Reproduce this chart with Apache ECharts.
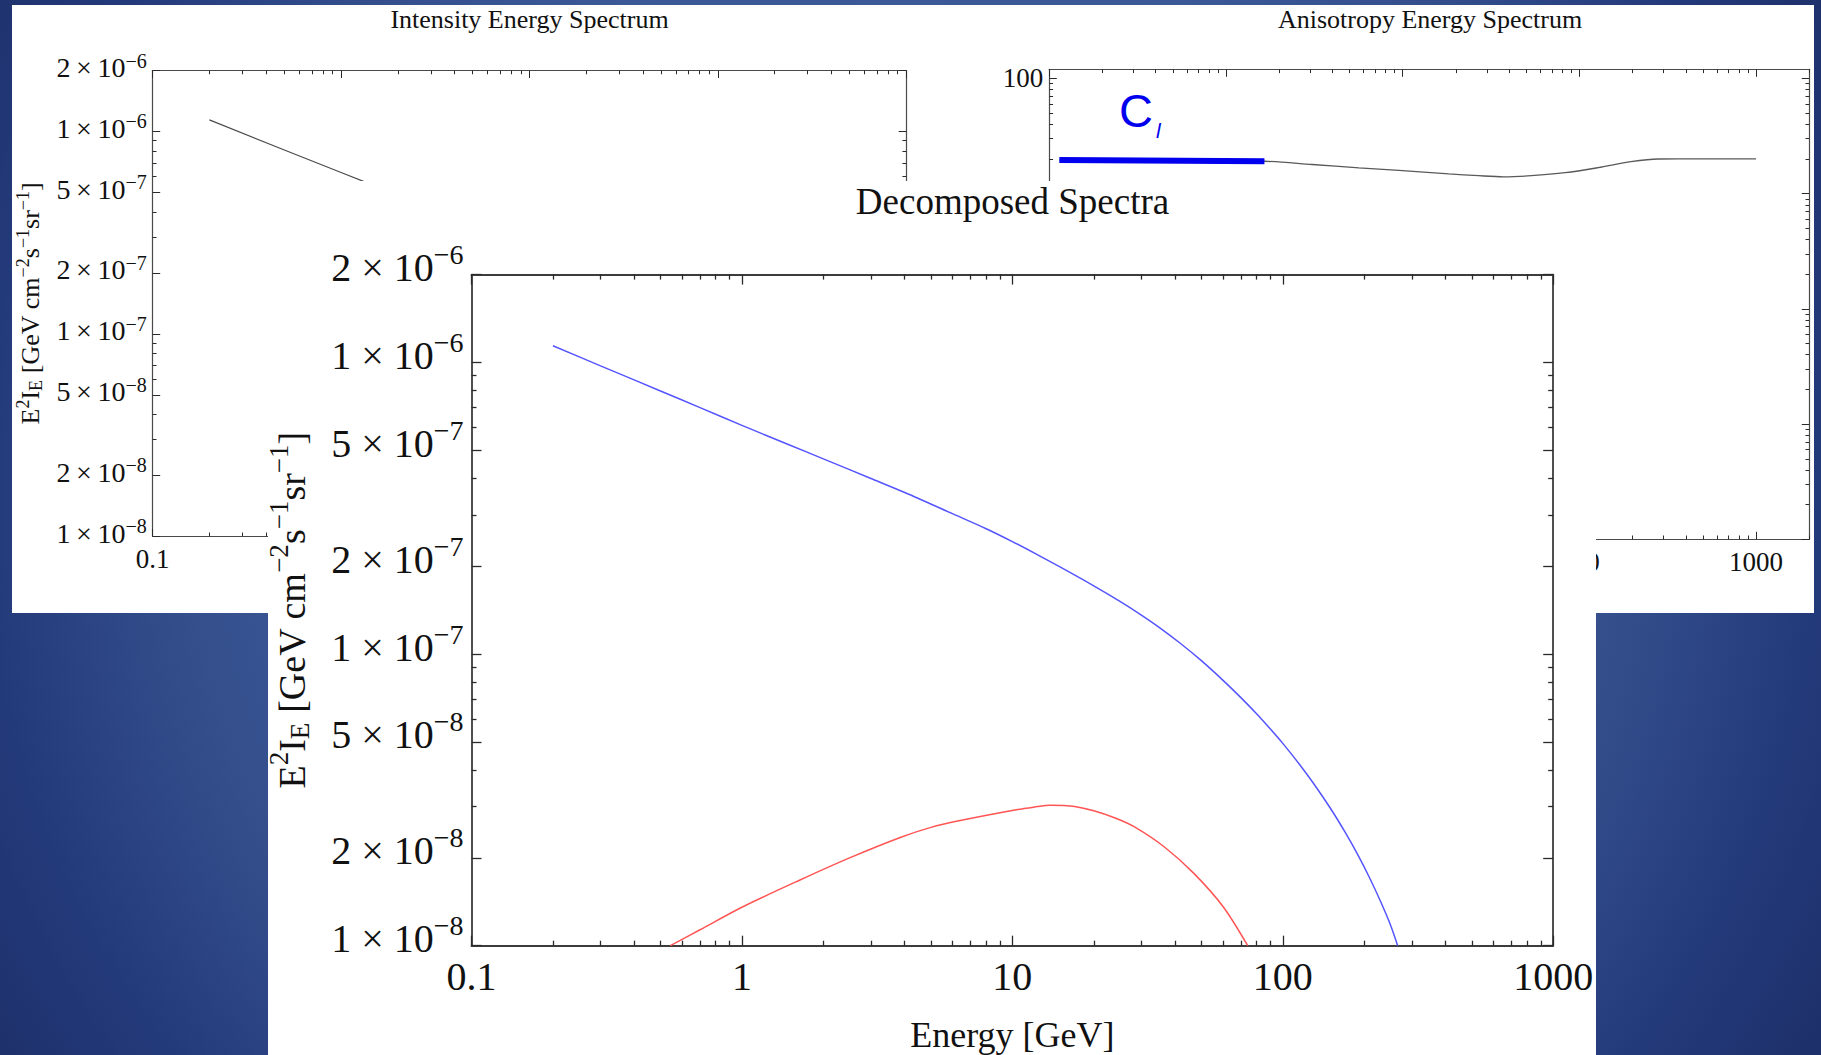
<!DOCTYPE html>
<html>
<head>
<meta charset="utf-8">
<script src="https://cdn.jsdelivr.net/npm/echarts@6/dist/echarts.min.js"></script>
<style>
  html, body { margin: 0; padding: 0; background: #2a4282; }
  #chart { width: 1821px; height: 1055px; }
</style>
</head>
<body>
<div id="chart"></div>
<script>
// ---------------- data ----------------
// Main "Decomposed Spectra" panel
const mainXMajor = [0.1, 1, 10, 100, 1000];
const mainYMajor = [1e-8, 2e-8, 5e-8, 1e-7, 2e-7, 5e-7, 1e-6, 2e-6];
const blueEnergy = [0.2, 0.3, 0.5, 0.7, 1, 1.5, 2, 3, 4, 6, 8, 10, 12.5, 15, 20, 25, 30, 35, 42, 50,
                    60, 70, 80, 90, 100, 115, 130, 150, 170, 190, 210, 230, 250, 266];
const blueFlux   = [1.14e-6, 9.73e-7, 7.98e-7, 7.0e-7, 6.08e-7, 5.21e-7, 4.67e-7, 4.0e-7, 3.58e-7, 3.03e-7,
                    2.69e-7, 2.43e-7, 2.18e-7, 1.99e-7, 1.714e-7, 1.516e-7, 1.361e-7, 1.233e-7, 1.085e-7, 9.49e-8,
                    8.14e-8, 7.09e-8, 6.24e-8, 5.53e-8, 4.94e-8, 4.2e-8, 3.6e-8, 2.96e-8, 2.45e-8, 2.04e-8,
                    1.7e-8, 1.417e-8, 1.18e-8, 1.0e-8];
const redEnergy  = [0.544, 0.7, 1.0, 1.64, 2.5, 3.85, 5, 6.34, 10.46, 12, 13.8, 15.5, 17, 20, 24, 28.4, 36.5, 46.9, 60.2, 74.2];
const redFlux    = [1.0e-8, 1.134e-8, 1.355e-8, 1.68e-8, 2.0e-8, 2.35e-8, 2.545e-8, 2.68e-8, 2.93e-8, 2.985e-8,
                    3.03e-8, 3.025e-8, 3.0e-8, 2.9e-8, 2.74e-8, 2.55e-8, 2.18e-8, 1.77e-8, 1.36e-8, 1.0e-8];

// Small "Intensity Energy Spectrum" panel (mostly hidden behind the main panel)
const intensityXMajor = [0.1, 1, 10, 100, 1000];
const intensityXLabels = [0.1];
const intensityYMajor = [1e-8, 2e-8, 5e-8, 1e-7, 2e-7, 5e-7, 1e-6, 2e-6];
const totalEnergy = [0.2, 0.5, 1.0, 1.5];
const totalFlux   = [1.14e-6, 8.1e-7, 6.27e-7, 5.4e-7];

// Small "Anisotropy Energy Spectrum" panel
const anisoXMajor = [0.1, 1, 10, 100, 1000];
const anisoXLabels = [100, 1000];
const anisoYMajor = [0.01, 0.1, 1, 10, 100];
const anisoYLabels = [100];
const anisoEnergy = [0.114, 1.65, 3.07, 5.65, 9.51, 18.2, 26.9, 37.2, 53.5, 83.2, 127.6, 195.9, 278.4, 467.7, 1000];
const anisoValue  = [19.6, 19.1, 17.9, 16.76, 15.91, 14.84, 14.31, 14.0, 14.31, 15.19, 16.8, 18.93, 19.98, 20.0, 20.0];
const clEnergy = [0.114, 1.65];
const clValue  = [19.6, 19.1];

// ---------------- helpers ----------------
const SERIF = '"Liberation Serif", "Times New Roman", serif';
const SANS = '"Liberation Sans", Arial, sans-serif';
const INK = '#111111';

function minorTicks(e0, e1, mults) {
  const out = [];
  for (let e = e0; e <= e1; e++) for (const m of mults) out.push(+(m * Math.pow(10, e)).toPrecision(6));
  return out;
}
const M125 = [3, 4, 6, 7, 8, 9];
const M1 = [2, 3, 4, 5, 6, 7, 8, 9];

function sciLabelWith(sp) {
  return function (v) {
    const e = Math.floor(Math.log10(v) + 1e-9);
    const m = Math.round(v / Math.pow(10, e));
    return '{b|' + m + sp + '\u00d7' + sp + '10}{s|\u2212' + (-e) + '}';
  };
}
function supRich(F, sF, r) {
  const pb = r - (F - sF) / 2, ps = 2 * r;
  return {
    b: { fontSize: F, lineHeight: F, fontFamily: SERIF, color: INK, verticalAlign: 'bottom', padding: [0, 0, pb, 0] },
    s: { fontSize: sF, lineHeight: sF, fontFamily: SERIF, color: INK, verticalAlign: 'bottom', padding: [0, 0, ps, 0] }
  };
}
function nameRich(F, sF, r, s) {
  const pb = Math.max(0, s - (F - sF) / 2);
  const psub = pb + (F - sF) / 2 - s;
  const ps = pb + (F - sF) / 2 + r;
  return {
    n: { fontSize: F, lineHeight: F, fontFamily: SERIF, color: INK, verticalAlign: 'bottom', padding: [0, 0, pb, 0] },
    sup: { fontSize: sF, lineHeight: sF, fontFamily: SERIF, color: INK, verticalAlign: 'bottom', padding: [0, 0, ps, 0] },
    sub: { fontSize: sF, lineHeight: sF, fontFamily: SERIF, color: INK, verticalAlign: 'bottom', padding: [0, 0, psub, 0] }
  };
}
const NAME_TEXT = '{n|E}{sup|2}{n|I}{sub|E}{n| [GeV cm}{sup|\u22122}{n|s}{sup|\u22121}{n|sr}{sup|\u22121}{n|]}';

const ST_MAIN = { lineColor: '#3c3c3c', lineWidth: 1.8, tickColor: '#2a2a2a', tickWidth: 1.3, major: 10, minor: 5 };
const ST_SMALL = { lineColor: '#4a4a4a', lineWidth: 1.2, tickColor: '#2a2a2a', tickWidth: 1, major: 7.5, minor: 3.8 };

const xAxes = [], yAxes = [];
function addAxes(list, gridIndex, positions, min, max, majorVals, minorVals, labelVals, st, label, extra, z) {
  const make = (position, showLine, ticks, len, lbl) => Object.assign({
    type: 'log', logBase: 10, gridIndex, position, min, max, z,
    axisLine: { show: showLine, onZero: false, lineStyle: { color: st.lineColor, width: st.lineWidth } },
    axisTick: { show: true, inside: true, length: len, customValues: ticks, lineStyle: { color: st.tickColor, width: st.tickWidth } },
    axisLabel: lbl ? Object.assign({ show: true, customValues: labelVals, showMinLabel: true, showMaxLabel: true, hideOverlap: false }, lbl) : { show: false },
    splitLine: { show: false }, minorTick: { show: false }, minorSplitLine: { show: false },
    axisPointer: { show: false }, silent: true, nameMoveOverlap: false
  });
  const idx = list.length;
  list.push(Object.assign(make(positions[0], true, majorVals, st.major, label), extra || {}));
  list.push(make(positions[0], false, minorVals, st.minor, null));
  list.push(make(positions[1], true, majorVals, st.major, null));
  list.push(make(positions[1], false, minorVals, st.minor, null));
  return idx;
}
const smallText = { fontSize: 27, lineHeight: 27, fontFamily: SERIF, color: INK, formatter: v => String(v) };

// ---- intensity (grid 0)
const ixI = addAxes(xAxes, 0, ['bottom', 'top'], 0.1, 1000, intensityXMajor, minorTicks(-1, 2, M1), intensityXLabels, ST_SMALL,
  Object.assign({ margin: 9 }, smallText), null, 3);
const iyI = addAxes(yAxes, 0, ['left', 'right'], 1e-8, 2e-6, intensityYMajor, minorTicks(-8, -6, M125), intensityYMajor, ST_SMALL,
  { margin: 6, formatter: sciLabelWith('\u2009'), rich: supRich(28, 20, 7) },
  { name: NAME_TEXT, nameLocation: 'middle', nameGap: 108, nameTextStyle: { rich: nameRich(26, 18, 8, 5) } }, 3);

// ---- anisotropy (grid 1)
const ixA = addAxes(xAxes, 1, ['bottom', 'top'], 0.1, 2000, anisoXMajor, minorTicks(-1, 3, M1), anisoXLabels, ST_SMALL,
  Object.assign({ margin: 9 }, smallText), null, 3);
const iyA = addAxes(yAxes, 1, ['left', 'right'], 0.01, 120, anisoYMajor, minorTicks(-2, 2, M1), anisoYLabels, ST_SMALL,
  Object.assign({ margin: 6 }, smallText), null, 3);

// ---- main (grid 2)
const ixM = addAxes(xAxes, 2, ['bottom', 'top'], 0.1, 1000, mainXMajor, minorTicks(-1, 2, M1), mainXMajor, ST_MAIN,
  { margin: 11, fontSize: 40, lineHeight: 40, fontFamily: SERIF, color: INK, formatter: v => String(v) },
  { name: 'Energy [GeV]', nameLocation: 'middle', nameGap: 71,
    nameTextStyle: { fontSize: 36, lineHeight: 36, fontFamily: SERIF, color: INK } }, 11);
const iyM = addAxes(yAxes, 2, ['left', 'right'], 1e-8, 2e-6, mainYMajor, minorTicks(-8, -6, M125), mainYMajor, ST_MAIN,
  { margin: 8, formatter: sciLabelWith(' '), rich: supRich(40, 28, 13) },
  { name: NAME_TEXT, nameLocation: 'middle', nameGap: 158, nameTextStyle: { rich: nameRich(38, 27, 13, 8) } }, 11);

const pairs = (xs, ys) => xs.map((x, i) => [x, ys[i]]);

const option = {
  animation: false,
  backgroundColor: 'transparent',
  title: [
    { text: 'Intensity Energy Spectrum', left: 529.5, top: 19.5, textAlign: 'center', textVerticalAlign: 'middle', padding: 0, z: 4,
      textStyle: { fontSize: 26, lineHeight: 26, fontWeight: 'normal', fontFamily: SERIF, color: INK } },
    { text: 'Anisotropy Energy Spectrum', left: 1430, top: 19.5, textAlign: 'center', textVerticalAlign: 'middle', padding: 0, z: 4,
      textStyle: { fontSize: 26, lineHeight: 26, fontWeight: 'normal', fontFamily: SERIF, color: INK } },
    { text: 'Decomposed Spectra', left: 1012.5, top: 201.5, textAlign: 'center', textVerticalAlign: 'middle', padding: 0, z: 12,
      textStyle: { fontSize: 37, lineHeight: 37, fontWeight: 'normal', fontFamily: SERIF, color: INK } }
  ],
  grid: [
    { left: 152.7, top: 70.5, width: 753.5, height: 465.8, containLabel: false, outerBoundsMode: 'none' },
    { left: 1049.3, top: 69.3, width: 760, height: 470, containLabel: false, outerBoundsMode: 'none' },
    { left: 471.5, top: 274.6, width: 1081.7, height: 671.1, containLabel: false, outerBoundsMode: 'none' }
  ],
  xAxis: xAxes,
  yAxis: yAxes,
  graphic: { elements: [
    { type: 'rect', z: 0, silent: true, shape: { x: 0, y: 0, width: 1821, height: 1055 },
      style: { fill: { type: 'radial', x: 900, y: 500, r: 1150, global: true, colorStops: [
        { offset: 0, color: '#40609f' }, { offset: 0.5, color: '#3b5796' }, { offset: 0.62, color: '#354f8d' },
        { offset: 0.8, color: '#233a7a' }, { offset: 1, color: '#1a2a62' } ] } } },
    { type: 'rect', z: 1, silent: true, shape: { x: 12, y: 5, width: 1802, height: 608 }, style: { fill: '#ffffff' } },
    { type: 'rect', z: 10, silent: true, shape: { x: 268, y: 181, width: 1328, height: 880 }, style: { fill: '#ffffff' } },
    { type: 'text', z: 6, silent: true, x: 1119, y: 110,
      style: { text: 'C', fontSize: 47, fontFamily: SANS, fill: '#0000ee', textAlign: 'left', textVerticalAlign: 'middle' } },
    { type: 'text', z: 6, silent: true, x: 1156, y: 130,
      style: { text: 'l', fontSize: 21, fontStyle: 'italic', fontFamily: SANS, fill: '#0000ee', textAlign: 'left', textVerticalAlign: 'middle' } }
  ] },
  series: [
    { type: 'line', name: 'Total intensity', xAxisIndex: ixI, yAxisIndex: iyI, data: pairs(totalEnergy, totalFlux),
      symbol: 'none', showSymbol: false, silent: true, z: 4, lineStyle: { color: '#4a4a4a', width: 1.2 } },
    { type: 'line', name: 'Anisotropy', xAxisIndex: ixA, yAxisIndex: iyA, data: pairs(anisoEnergy, anisoValue),
      symbol: 'none', showSymbol: false, silent: true, z: 4, smooth: 0.3, lineStyle: { color: '#5a5a5a', width: 1.3 } },
    { type: 'line', name: 'C_l', xAxisIndex: ixA, yAxisIndex: iyA, data: pairs(clEnergy, clValue),
      symbol: 'none', showSymbol: false, silent: true, z: 5, lineStyle: { color: '#0000ee', width: 6, cap: 'butt' } },
    { type: 'line', name: 'Component 1', xAxisIndex: ixM, yAxisIndex: iyM, data: pairs(blueEnergy, blueFlux),
      symbol: 'none', showSymbol: false, silent: true, z: 12, smooth: 0.3, lineStyle: { color: '#5555ff', width: 1.5 } },
    { type: 'line', name: 'Component 2', xAxisIndex: ixM, yAxisIndex: iyM, data: pairs(redEnergy, redFlux),
      symbol: 'none', showSymbol: false, silent: true, z: 12, smooth: 0.3, lineStyle: { color: '#ff5555', width: 1.5 } }
  ]
};

const chart = echarts.init(document.getElementById('chart'), null, { renderer: 'svg', width: 1821, height: 1055 });
chart.setOption(option);
</script>
</body>
</html>
